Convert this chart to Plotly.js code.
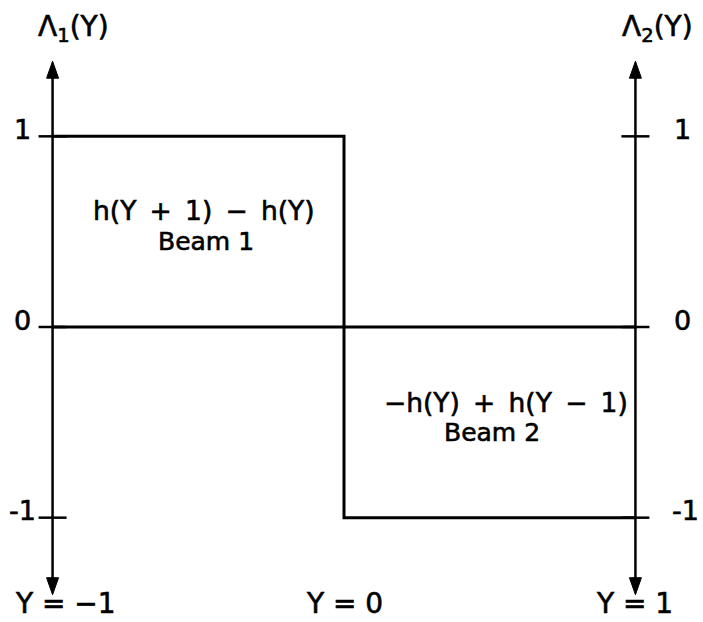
<!DOCTYPE html>
<html>
<head>
<meta charset="utf-8">
<script src="https://cdn.plot.ly/plotly-3.0.1.min.js"></script>
<style>
html,body{margin:0;padding:0;background:#fff}
/* slightly heavier lettering */
#chart .annotation-text{stroke:#000;stroke-width:0.6px;paint-order:stroke}
</style>
</head>
<body>
<div id="chart" style="width:703px;height:622px"></div>
<script>
// Step response of the two beams across the gap Y in [-1, 1]
const stepY = [-1, 0, 1];
const stepValue = [1, -1, -1];
const baselineY = [-1, 1];
const baselineValue = [0, 0];

// Vertical axes at both ends, with their ticks and titles
const axisPositions = [-1, 1];
const axisExtent = [-1.404, 1.394];
const tickValues = [1, 0, -1];
const tickText = ['1', '0', '-1'];
const axisTitles = ['Λ<sub>1</sub>(Y)', 'Λ<sub>2</sub>(Y)'];

// Labels along the bottom
const bottomAt = [-1, 0, 1];
const bottomLabels = ['Y = −1', 'Y = 0', 'Y = 1'];

// Region captions
const beamFormulas = ['h(Y\u2002+\u20021)\u2002−\u2002h(Y)', '−h(Y)\u2002+\u2002h(Y\u2002−\u20021)'];
const beamNames = ['Beam 1', 'Beam 2'];

const xRange = [-1.05, 1.05];
const yRange = [-1.5, 1.5];
const FONT = 'DejaVu Sans';
const ink = '#000';

const tickX = [], tickY = [];
axisPositions.forEach(p => tickValues.forEach(v => { tickX.push(p); tickY.push(v); }));

const traces = [
  { x: baselineY, y: baselineValue, mode: 'lines', line: { color: ink, width: 3 }, hoverinfo: 'skip' },
  { x: stepY, y: stepValue, mode: 'lines', line: { color: ink, width: 3, shape: 'hv' }, hoverinfo: 'skip' },
  { x: tickX, y: tickY, mode: 'markers', hoverinfo: 'skip',
    marker: { symbol: 'line-ew', size: 20, line: { color: ink, width: 2.5 } } }
];

const shapes = [];
axisPositions.forEach(p => {
  shapes.push({ type: 'line', xref: 'x', yref: 'y', x0: p, x1: p, y0: axisExtent[0] + 0.05, y1: axisExtent[1] - 0.05,
                line: { color: ink, width: 2.5 } });
  // arrowheads, sized in pixels
  shapes.push({ type: 'path', xref: 'x', yref: 'y', xsizemode: 'pixel', ysizemode: 'pixel',
                xanchor: p, yanchor: axisExtent[1], path: 'M0,0 L-6,-17 L6,-17 Z',
                fillcolor: ink, line: { color: ink, width: 1 } });
  shapes.push({ type: 'path', xref: 'x', yref: 'y', xsizemode: 'pixel', ysizemode: 'pixel',
                xanchor: p, yanchor: axisExtent[0], path: 'M0,0 L-6,17 L6,17 Z',
                fillcolor: ink, line: { color: ink, width: 1 } });
});

const annotations = [];
const txt = (o) => Object.assign({ showarrow: false, xanchor: 'center', yanchor: 'middle',
                                   font: { family: FONT, size: 25, color: ink } }, o);

// tick labels on both sides
tickValues.forEach((v, i) => {
  annotations.push(txt({ xref: 'x', yref: 'y', x: -1, y: v, text: tickText[i], xshift: -30, yshift: 7,
                         font: { family: FONT, size: 27, color: ink } }));
  annotations.push(txt({ xref: 'x', yref: 'y', x: 1, y: v, text: tickText[i], xshift: v < 0 ? 50 : 47, yshift: 7,
                         font: { family: FONT, size: 27, color: ink } }));
});

// axis titles
annotations.push(txt({ xref: 'x', yref: 'y', x: -1, y: 1.5, yshift: 13, xshift: 21, text: axisTitles[0], font: { family: FONT, size: 28, color: ink } }));
annotations.push(txt({ xref: 'x', yref: 'y', x: 1, y: 1.5, yshift: 13, xshift: 22, text: axisTitles[1], font: { family: FONT, size: 28, color: ink } }));

// bottom labels
const bottomShift = [13, 0, -1];
bottomAt.forEach((v, i) => {
  annotations.push(txt({ xref: 'x', yref: 'y', x: v, y: -1.5, yshift: 10, xshift: bottomShift[i], text: bottomLabels[i],
                         font: { family: FONT, size: 28, color: ink } }));
});

// region captions
annotations.push(txt({ xref: 'x', yref: 'y', x: -0.481, y: 0.609, text: beamFormulas[0], font: { family: FONT, size: 26.5, color: ink } }));
annotations.push(txt({ xref: 'x', yref: 'y', x: -0.474, y: 0.446, text: beamNames[0] }));
annotations.push(txt({ xref: 'x', yref: 'y', x: 0.557, y: -0.394, text: beamFormulas[1], font: { family: FONT, size: 26.5, color: ink } }));
annotations.push(txt({ xref: 'x', yref: 'y', x: 0.509, y: -0.551, text: beamNames[1] }));

const layout = {
  width: 703, height: 622,
  margin: { l: 38.45, r: 53.45, t: 41.25, b: 9.25 },
  paper_bgcolor: '#fff', plot_bgcolor: '#fff',
  showlegend: false,
  xaxis: { range: xRange, visible: false, fixedrange: true },
  yaxis: { range: yRange, visible: false, fixedrange: true },
  shapes: shapes,
  annotations: annotations
};

Plotly.newPlot('chart', traces, layout, { staticPlot: true, displayModeBar: false });
</script>
</body>
</html>
